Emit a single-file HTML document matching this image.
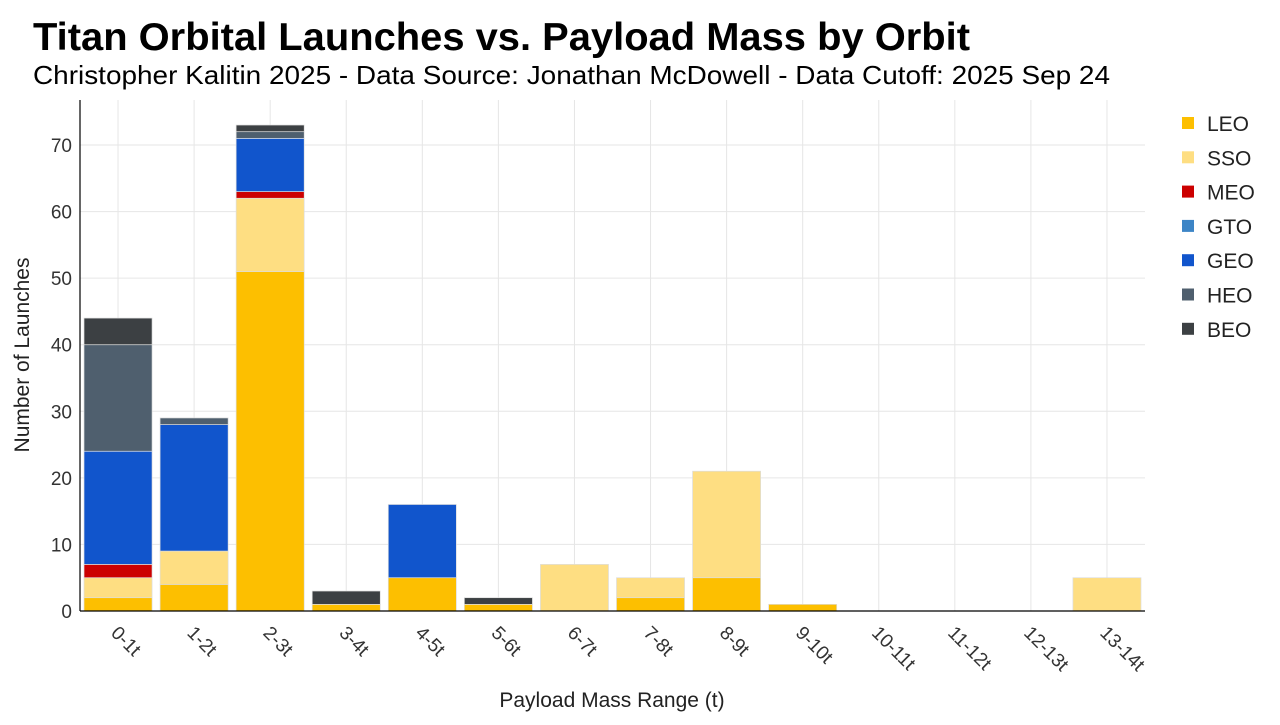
<!DOCTYPE html>
<html><head><meta charset="utf-8"><style>
body{margin:0;background:#fff;font-family:"Liberation Sans",Arial,sans-serif}
</style></head><body>
<svg id="c" width="1280" height="720" xmlns="http://www.w3.org/2000/svg" font-family="Liberation Sans, Arial, sans-serif"></svg>
<script>
const s=document.getElementById('c');
let h='';
h+='<text x="33" y="50" font-size="39" font-weight="bold" fill="#000" textLength="937" lengthAdjust="spacingAndGlyphs">Titan Orbital Launches vs. Payload Mass by Orbit</text>';
h+='<text x="33" y="84" font-size="26" fill="#000" textLength="1077" lengthAdjust="spacingAndGlyphs">Christopher Kalitin 2025 - Data Source: Jonathan McDowell - Data Cutoff: 2025 Sep 24</text>';
const x0=80,x1=1145,y0=611,k=466/70,bw=(x1-x0)/14;
for(let v=0;v<=70;v+=10){const y=y0-v*k;
 h+=`<line x1="${x0}" x2="${x1}" y1="${y}" y2="${y}" stroke="#e6e6e6"/>`;
 h+=`<text x="72" y="${y+7}" font-size="19" text-anchor="end" fill="#333">${v}</text>`;}
const cats=['0-1t','1-2t','2-3t','3-4t','4-5t','5-6t','6-7t','7-8t','8-9t','9-10t','10-11t','11-12t','12-13t','13-14t'];
cats.forEach((c,i)=>{const cx=x0+bw*(i+.5);
 h+=`<line x1="${cx}" x2="${cx}" y1="100" y2="${y0}" stroke="#e6e6e6"/>`;
 h+=`<text transform="translate(${cx-8},${634}) rotate(45)" font-size="19" fill="#333">${c}</text>`;});
const col={LEO:'#fdbf00',SSO:'#fede82',MEO:'#cc0000',GTO:'#3d85c6',GEO:'#1155cc',HEO:'#4f5f6e',BEO:'#3c4043'};
const d=[{LEO:2,SSO:3,MEO:2,GEO:17,HEO:16,BEO:4},{LEO:4,SSO:5,GEO:19,HEO:1},{LEO:51,SSO:11,MEO:1,GEO:8,HEO:1,BEO:1},{LEO:1,BEO:2},{LEO:5,GEO:11},{LEO:1,BEO:1},{SSO:7},{LEO:2,SSO:3},{LEO:5,SSO:16},{LEO:1},{},{},{},{SSO:5}];
const ord=['LEO','SSO','MEO','GTO','GEO','HEO','BEO'];
d.forEach((o,i)=>{let acc=0;const bx=x0+bw*i+4;
 ord.forEach(key=>{const v=o[key];if(!v)return;const yt=y0-(acc+v)*k;
  h+=`<rect x="${bx}" y="${yt}" width="${bw-8}" height="${v*k}" fill="${col[key]}" stroke="#ddd" stroke-width="0.7"/>`;acc+=v;});});
h+=`<line x1="${x0}" x2="${x0}" y1="100" y2="${y0}" stroke="#000" stroke-width="1.2"/>`;
h+=`<line x1="${x0}" x2="${x1}" y1="${y0}" y2="${y0}" stroke="#000" stroke-width="1.2"/>`;
h+=`<text transform="translate(29,355) rotate(-90)" font-size="21" text-anchor="middle" fill="#222">Number of Launches</text>`;
h+=`<text x="612" y="707" font-size="21" text-anchor="middle" fill="#222">Payload Mass Range (t)</text>`;
ord.forEach((key,j)=>{const y=123+j*34.3;
 h+=`<rect x="1182" y="${y-6}" width="12" height="12" fill="${col[key]}"/>`;
 h+=`<text x="1207" y="${y+8}" font-size="21" fill="#222">${key}</text>`;});
s.innerHTML=h;
</script>
</body></html>
